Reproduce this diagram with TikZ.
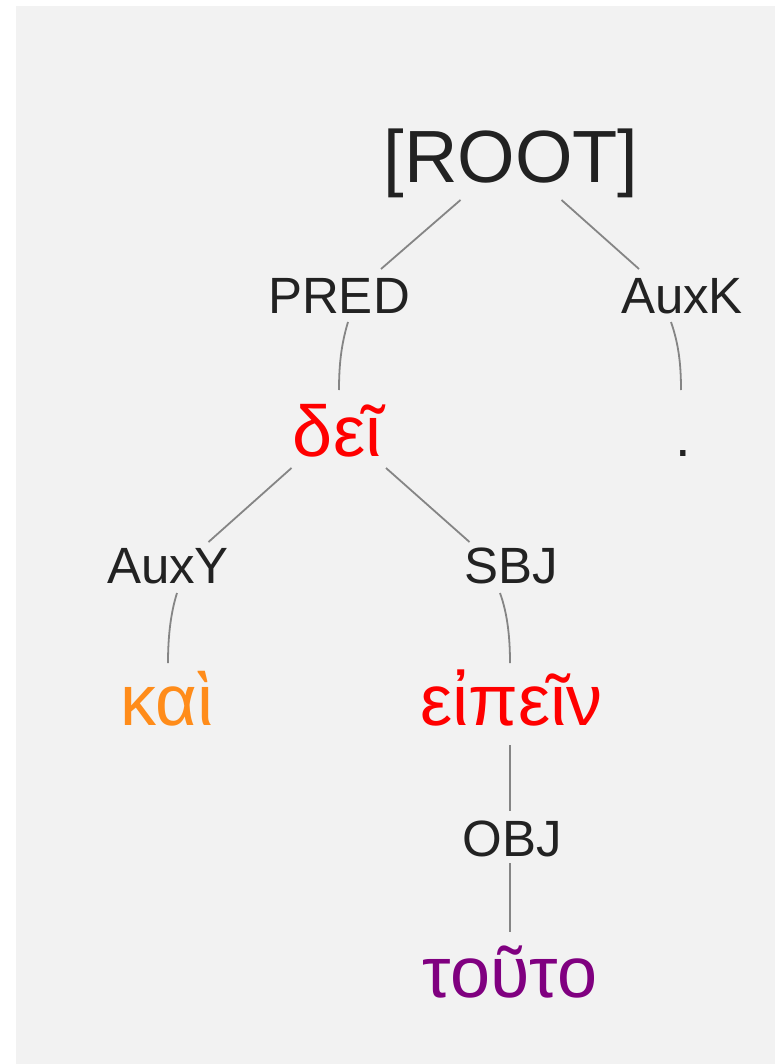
\documentclass[tikz,border=0pt]{standalone}
\usepackage{fontspec}
\setmainfont{Liberation Sans}
\usetikzlibrary{calc}
\definecolor{bgc}{HTML}{F2F2F2}
\definecolor{edgegray}{HTML}{858585}
\definecolor{labelc}{HTML}{222222}
\definecolor{wordred}{HTML}{FF0000}
\definecolor{wordorange}{HTML}{FF8C1A}
\definecolor{wordpurple}{HTML}{800080}
\begin{document}
\begin{tikzpicture}[x=1pt,y=-1pt,
  lbl/.style={inner sep=0pt, anchor=base, text=labelc, font=\fontsize{51}{60}\selectfont},
  wrd/.style={inner sep=0pt, anchor=base, font=\fontsize{72}{84}\selectfont},
  dep/.style={draw=edgegray, line width=1.8pt}]
\fill[white] (0,0) rectangle (775,1064);
\fill[bgc] (16,6) rectangle (775,1064);
\useasboundingbox (0,0) rectangle (775,1064);
% nodes
\node[wrd, text=labelc, font=\fontsize{74}{86}\selectfont] (root) at (511,183) {[ROOT]};
\node[lbl] (pred) at (339,313) {PRED};
\node[lbl] (auxk) at (682,313) {AuxK};
\node[wrd, text=wordred] (dei) at (337,456) {δεῖ};
\node[wrd, text=labelc, font=\fontsize{56}{66}\selectfont] (dot) at (683,456) {.};
\node[lbl] (auxy) at (168,583) {AuxY};
\node[lbl] (sbj) at (511,583) {SBJ};
\node[wrd, text=wordorange] (kai) at (167,725) {καὶ};
\node[wrd, text=wordred] (eipein) at (511.5,725) {εἰπεῖν};
\node[lbl] (obj) at (512,856) {OBJ};
\node[wrd, text=wordpurple] (touto) at (510,997) {τοῦτο};
% edges
\draw[dep] ($(root.base)+(-50.5,17)$) -- ($(pred.base)+(42,-44)$);
\draw[dep] ($(root.base)+(50.5,17)$) -- ($(auxk.base)+(-43,-44)$);
\draw[dep] ($(pred.base)+(9,9)$) .. controls ($(pred.base)+(2,32)$) and ($(dei.base)+(2,-90)$) .. ($(dei.base)+(2,-66)$);
\draw[dep] ($(auxk.base)+(-11,9)$) .. controls ($(auxk.base)+(-3,32)$) and ($(dot.base)+(-2,-90)$) .. ($(dot.base)+(-2,-66)$);
\draw[dep] ($(dei.base)+(-45.5,12)$) -- ($(auxy.base)+(40.5,-41)$);
\draw[dep] ($(dei.base)+(49,12)$) -- ($(sbj.base)+(-41.5,-41)$);
\draw[dep] ($(auxy.base)+(9,10)$) .. controls ($(auxy.base)+(2,32)$) and ($(kai.base)+(1,-85)$) .. ($(kai.base)+(1,-62)$);
\draw[dep] ($(sbj.base)+(-11,10)$) .. controls ($(sbj.base)+(-3,32)$) and ($(eipein.base)+(-1.5,-85)$) .. ($(eipein.base)+(-1.5,-62)$);
\draw[dep] ($(eipein.base)+(-1.5,20)$) -- ($(obj.base)+(-2,-45)$);
\draw[dep] ($(obj.base)+(-2,7)$) -- ($(touto.base)+(0,-65)$);
\end{tikzpicture}
\end{document}
